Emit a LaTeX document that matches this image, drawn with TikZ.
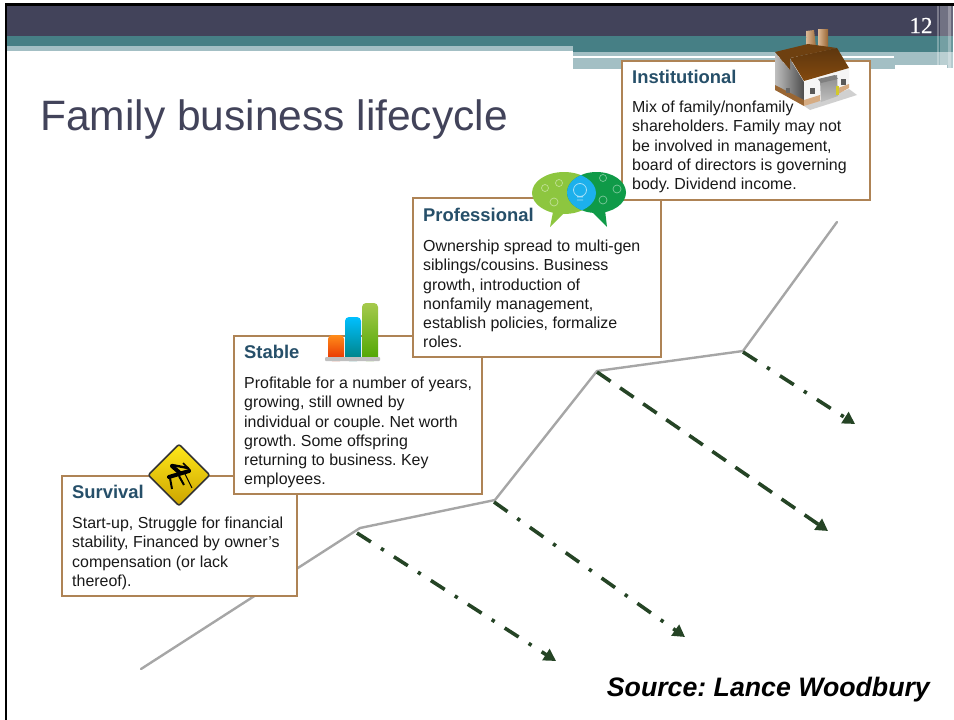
\documentclass[tikz,border=0pt]{standalone}
\usepackage{fontspec}
\setmainfont{Liberation Sans}
\newfontfamily\numfont[FakeBold=0.6]{Liberation Serif}
\usepackage{xcolor}
\usetikzlibrary{shapes.geometric,arrows.meta,positioning}
\definecolor{bandDark}{HTML}{42435A}
\definecolor{bandTeal}{HTML}{467F85}
\definecolor{bandLight}{HTML}{A3BFC4}
\definecolor{boxBrown}{HTML}{AE8355}
\definecolor{headBlue}{HTML}{264F69}
\definecolor{arrowGreen}{HTML}{254425}
\definecolor{titleGrey}{HTML}{42435A}
\definecolor{roofBrown}{HTML}{6E4010}
\definecolor{bubbleLight}{HTML}{8DC63F}
\definecolor{bubbleDark}{HTML}{0F9A48}
\definecolor{bubbleBlue}{HTML}{1CB0EC}

\begin{document}
\frenchspacing
\begin{tikzpicture}[x=1pt,y=-1pt]
            \tikzstyle{stagebox} = [rectangle, draw=boxBrown, line width=1.6pt, fill=white, inner sep=0pt]
            \tikzstyle{stagehead} = [anchor=north west, inner sep=0pt, font=\fontsize{18.4}{18}\selectfont\bfseries, text=headBlue]
            \tikzstyle{stagetext} = [anchor=north west, inner sep=0pt, align=left, font=\fontsize{15.95}{19.2}\selectfont, text=black!90]
            \tikzstyle{trend} = [line width=2.4pt, draw=black!35, line cap=round, line join=round]
            \tikzstyle{dashdotarrow} = [line width=3.6pt, draw=arrowGreen, dash pattern=on 16.5pt off 12pt on 3.4pt off 12pt, -{Triangle[length=12pt,width=13pt,fill=arrowGreen]}]
            \tikzstyle{dasharrow} = [line width=3.6pt, draw=arrowGreen, dash pattern=on 16.5pt off 11.5pt, -{Triangle[length=12pt,width=13pt,fill=arrowGreen]}]

            \useasboundingbox (0,0) rectangle (954,720);

            \fill [bandDark] (5,6) rectangle (953,36);
            \fill [bandTeal] (5,36) rectangle (953,46);
            \fill [bandLight] (5,46) rectangle (573,51);
            \fill [bandLight] (573,46) rectangle (895,69);
            \fill [bandLight] (895,51) rectangle (947,65);
            \fill [bandLight] (947,51) rectangle (953,68);
            \fill [bandTeal] (573,46) rectangle (953,52);
            \fill [white] (573,56) rectangle (894,58);
            \fill [white, opacity=0.3] (937,6) rectangle (938.5,65);
            \fill [white, opacity=0.25] (940,6) rectangle (948,65);
            \fill [white, opacity=0.45] (948,6) rectangle (950.5,68);
            \fill [white, opacity=0.2] (951,6) rectangle (953,68);
            \fill [black] (5,3) rectangle (954,6);
            \fill [black] (5,3) rectangle (7,720);

            \node [inner sep=0pt, text=white, font=\fontsize{23}{23}\selectfont\numfont] (pagenum) at (921,25.5) {12};
            \node [anchor=base west, inner sep=0pt, text=titleGrey, font=\fontsize{42.5}{42}\selectfont] (title) at (40,130) {Family business lifecycle};
            \node [anchor=base east, inner sep=0pt, font=\fontsize{26.7}{27}\selectfont\bfseries\itshape] (source) at (930,696) {Source: Lance Woodbury};

            \coordinate (t0) at (141,669);
            \coordinate (t1) at (360,528);
            \coordinate (t2) at (495,500);
            \coordinate (t3) at (597,371);
            \coordinate (t4) at (743,351);
            \coordinate (t5) at (837,222);
            \draw [trend] (t0) -- (t1) -- (t2) -- (t3) -- (t4) -- (t5);

            \coordinate (a1) at (357,533);
            \coordinate (a2) at (556,661);
            \coordinate (b1) at (494,502);
            \coordinate (b2) at (685,637);
            \coordinate (c1) at (597,372);
            \coordinate (c2) at (828,531);
            \coordinate (d1) at (743,352);
            \coordinate (d2) at (855,424);
            \draw [dashdotarrow] (a1) -- (a2);
            \draw [dashdotarrow] (b1) -- (b2);
            \draw [dasharrow] (c1) -- (c2);
            \draw [dashdotarrow] (d1) -- (d2);

            \node [stagebox, minimum width=235pt, minimum height=120pt] (survival) at (179.5,536) {};
            \node [stagebox, minimum width=248pt, minimum height=158pt] (stable) at (358,415) {};
            \node [stagebox, minimum width=248pt, minimum height=159pt] (professional) at (537,277.5) {};
            \node [stagebox, minimum width=248pt, minimum height=139pt] (institutional) at (746,130.5) {};

            \node [stagehead] (survivalhead) at (72,485) {Survival};
            \node [stagetext] (survivaltext) at (72,517) {Start-up, Struggle for financial\\stability, Financed by owner's\\compensation (or lack\\thereof).};
            \node [stagehead] (stablehead) at (244,345) {Stable};
            \node [stagetext] (stabletext) at (244,377) {Profitable for a number of years,\\growing, still owned by\\individual or couple. Net worth\\growth. Some offspring\\returning to business. Key\\employees.};
            \node [stagehead] (professionalhead) at (423,208) {Professional};
            \node [stagetext] (professionaltext) at (423,240) {Ownership spread to multi-gen\\siblings/cousins. Business\\growth, introduction of\\nonfamily management,\\establish policies, formalize\\roles.};
            \node [stagehead] (institutionalhead) at (632,70) {Institutional};
            \node [stagetext] (institutionaltext) at (632,101) {Mix of family/nonfamily\\shareholders. Family may not\\be involved in management,\\board of directors is governing\\body. Dividend income.};

            \node [diamond, draw=black!80, line width=1.6pt, top color=yellow!80!orange!90!white, bottom color=yellow!60!orange!80!black, minimum width=62pt, minimum height=62pt, inner sep=0pt, rounded corners=2pt] (signicon) at (179,475) {};
            \draw [black, line width=4pt, line cap=round] (172,466) -- (180,473);
            \draw [black, line width=2.4pt, line cap=round] (172,465) -- (188,468);
            \draw [black, line width=4pt, line cap=round] (169,477) -- (189,471);
            \draw [black, line width=2pt] (170,478) -- (172,489) (179,476) -- (184,485);
            \draw [black, line width=1pt] (185,474) -- (192,488);
            \draw [black, line width=1.5pt] (183,463) -- (190,470);

            \shade [top color=orange!90!white, bottom color=red!60!orange!90!black, rounded corners=4pt] (328,335) rectangle (344,361);
            \shade [top color=cyan!75!blue, bottom color=cyan!50!black, rounded corners=4pt] (345,317) rectangle (361,361);
            \shade [top color=green!40!black!50!yellow!70!white, bottom color=green!50!black!70!yellow, rounded corners=4pt] (362,303) rectangle (378,361);
            \fill [black!25, rounded corners=1pt] (325,357) rectangle (380,361);

            \fill [bubbleLight] (564,193) ellipse (32 and 21);
            \fill [bubbleLight] (553,212) -- (550,227) -- (563,214) -- cycle;
            \fill [bubbleDark] (596.5,192.5) ellipse (29.5 and 20.5);
            \fill [bubbleDark] (592,212) -- (607,227) -- (605,210) -- cycle;
            \begin{scope}
                \clip (564,193) ellipse (32 and 21);
                \fill [bubbleBlue] (596.5,192.5) ellipse (29.5 and 20.5);
            \end{scope}
            \draw [white, opacity=0.6, line width=0.8pt] (580,190) circle (6.5) (577,197) -- (583,197) (577,200) -- (583,200);
            \draw [white, opacity=0.45, line width=0.7pt] (545,188) circle (3.5) (559,183) circle (3.5) (554,202) circle (4) (603,178) circle (3.5) (617,189) circle (4) (603,200) circle (4);

            \fill [black!30, opacity=0.6] (804,106) -- (849,89) -- (857,95) -- (810,110) -- cycle;
            \shade [left color=brown!55!white, right color=brown!80!black] (806,31) -- (814,30) -- (817,55) -- (807,57) -- cycle;
            \shade [left color=brown!55!white, right color=brown!80!black] (818,29) -- (828,29) -- (828,50) -- (818,53) -- cycle;
            \shade [left color=black!25, right color=black!70] (775,53) -- (790,70) -- (790,59) -- (804,82) -- (804,105) -- (775,87) -- cycle;
            \fill [black!4] (804,82) -- (849,68) -- (849,88) -- (804,105) -- cycle;
            \fill [roofBrown] (775,52) -- (808,44) -- (837,48) -- (790,58) -- (790,70) -- cycle;
            \shade [top color=roofBrown!85!black, bottom color=roofBrown!85!orange] (790,58) -- (837,48) -- (849,68) -- (804,81) -- cycle;
            \fill [brown!80!black] (775,85) -- (804,100) -- (804,106) -- (775,90) -- cycle;
            \fill [brown!65!white] (804,100) -- (820,95) -- (820,101) -- (804,106) -- cycle;
            \fill [brown!65!white] (838,88) -- (849,84) -- (849,88) -- (838,94) -- cycle;
            \shade [top color=black!45, bottom color=black!25] (820,80) -- (837,75) -- (838,96) -- (821,102) -- cycle;
            \fill [black!50] (818,79) -- (835,75) -- (838,79) -- (821,83) -- cycle;
            \fill [yellow!80!black] (836,86) rectangle (839,95);
            \fill [black!65] (810,88) rectangle (815,94);
            \fill [black!65] (841,79) rectangle (846,85);
            \fill [black!60] (786,88) rectangle (790,93);
\end{tikzpicture}
\end{document}
